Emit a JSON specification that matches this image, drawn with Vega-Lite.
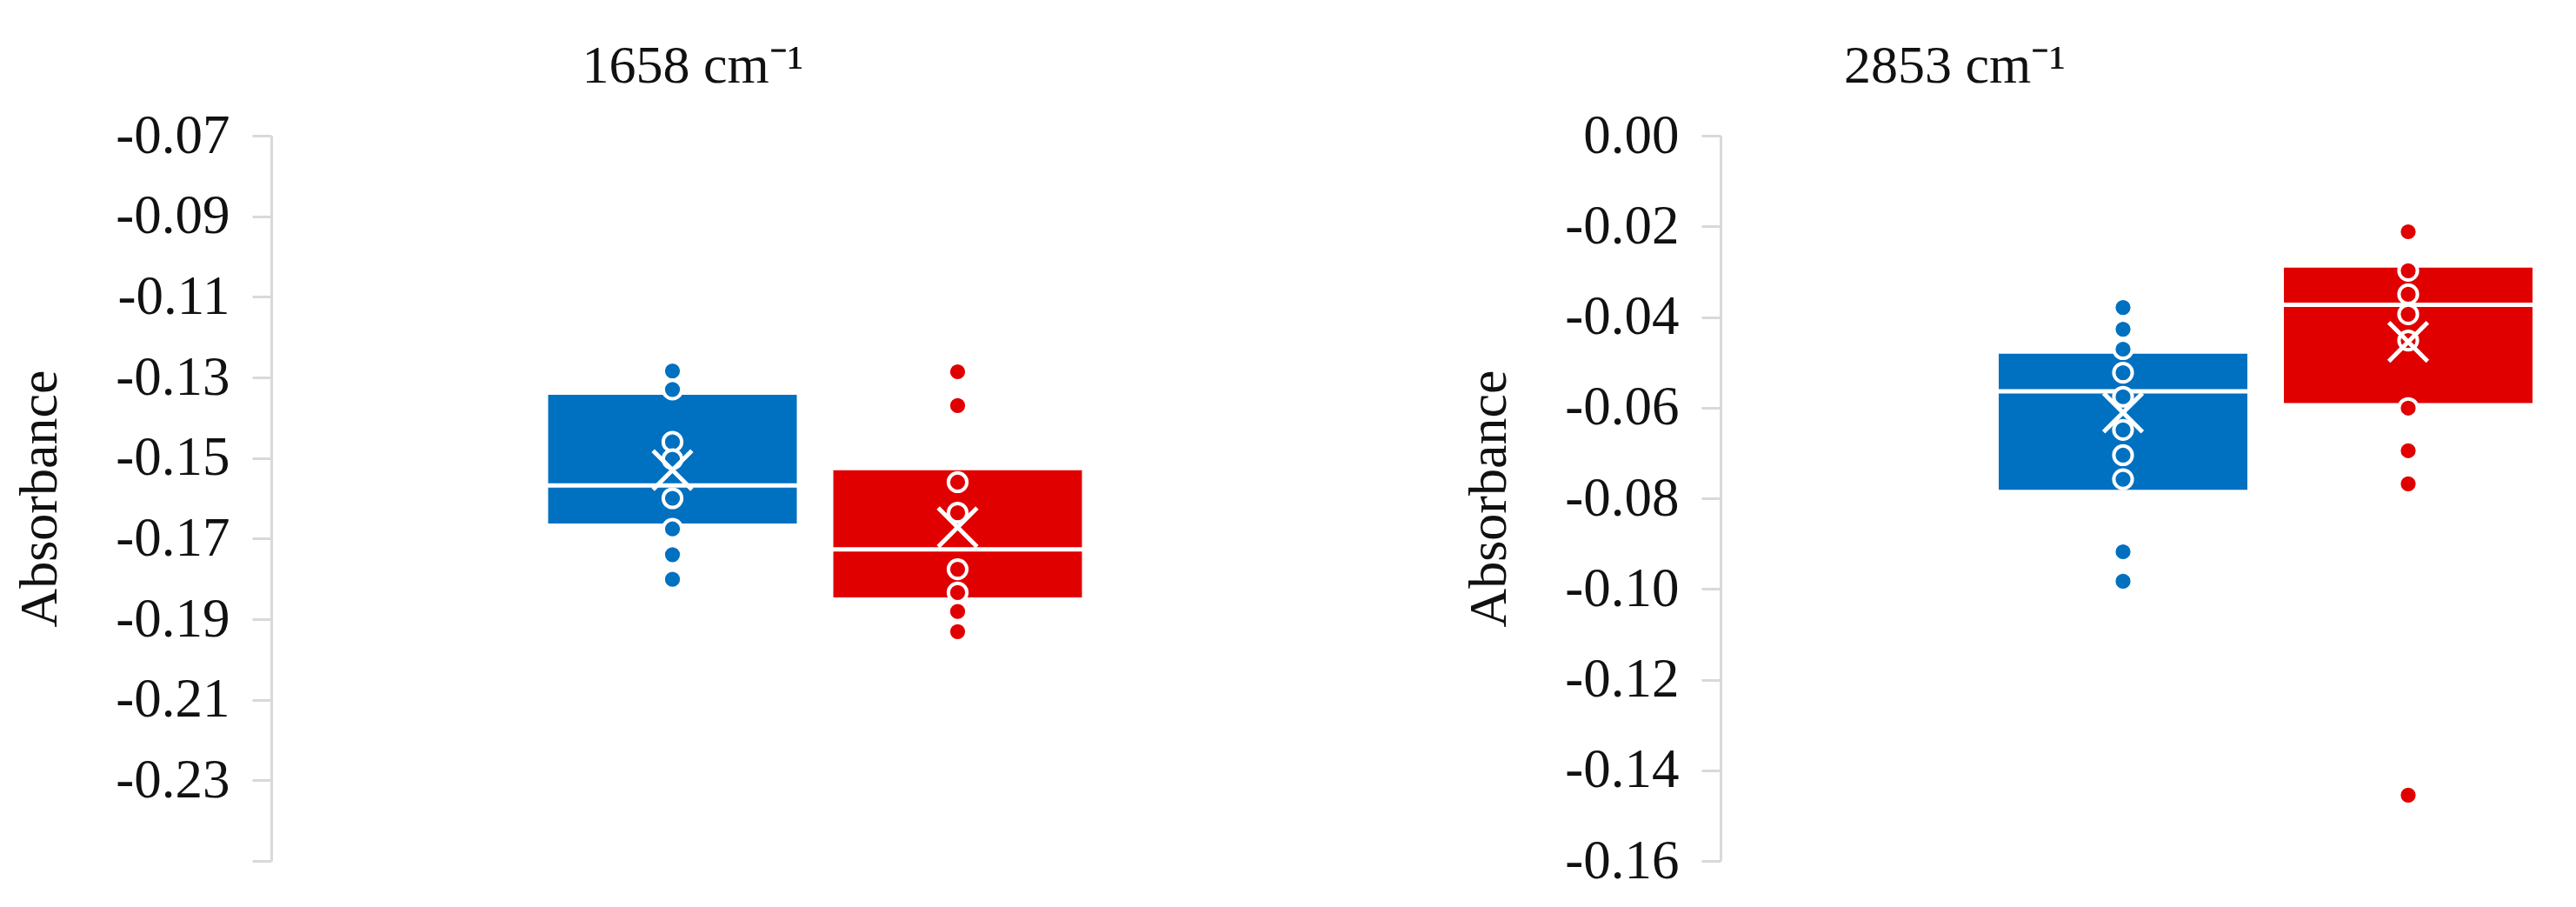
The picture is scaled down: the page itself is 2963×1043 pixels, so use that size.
{
  "$schema": "https://vega.github.io/schema/vega-lite/v6.json",
  "background": "white",
  "padding": {"left": 14, "top": 45, "right": 0, "bottom": 0},
  "spacing": 118,
  "datasets": {
    "boxes": [
      {"panel": "1658", "group": "Series 1", "q1": -0.1665, "q3": -0.1341, "median": -0.1568, "mean": -0.1530},
      {"panel": "1658", "group": "Series 2", "q1": -0.1848, "q3": -0.1528, "median": -0.1727, "mean": -0.1672},
      {"panel": "2853", "group": "Series 1", "q1": -0.0783, "q3": -0.0479, "median": -0.0564, "mean": -0.0611},
      {"panel": "2853", "group": "Series 2", "q1": -0.0592, "q3": -0.0289, "median": -0.0373, "mean": -0.0455}
    ],
    "points": [
      {"panel": "1658", "group": "Series 1", "value": -0.1284},
      {"panel": "1658", "group": "Series 1", "value": -0.1330},
      {"panel": "1658", "group": "Series 1", "value": -0.1460},
      {"panel": "1658", "group": "Series 1", "value": -0.1503},
      {"panel": "1658", "group": "Series 1", "value": -0.1600},
      {"panel": "1658", "group": "Series 1", "value": -0.1676},
      {"panel": "1658", "group": "Series 1", "value": -0.1740},
      {"panel": "1658", "group": "Series 1", "value": -0.1801},
      {"panel": "1658", "group": "Series 2", "value": -0.1286},
      {"panel": "1658", "group": "Series 2", "value": -0.1370},
      {"panel": "1658", "group": "Series 2", "value": -0.1560},
      {"panel": "1658", "group": "Series 2", "value": -0.1636},
      {"panel": "1658", "group": "Series 2", "value": -0.1776},
      {"panel": "1658", "group": "Series 2", "value": -0.1834},
      {"panel": "1658", "group": "Series 2", "value": -0.1881},
      {"panel": "1658", "group": "Series 2", "value": -0.1931},
      {"panel": "2853", "group": "Series 1", "value": -0.0379},
      {"panel": "2853", "group": "Series 1", "value": -0.0427},
      {"panel": "2853", "group": "Series 1", "value": -0.0471},
      {"panel": "2853", "group": "Series 1", "value": -0.0523},
      {"panel": "2853", "group": "Series 1", "value": -0.0576},
      {"panel": "2853", "group": "Series 1", "value": -0.0649},
      {"panel": "2853", "group": "Series 1", "value": -0.0705},
      {"panel": "2853", "group": "Series 1", "value": -0.0758},
      {"panel": "2853", "group": "Series 1", "value": -0.0918},
      {"panel": "2853", "group": "Series 1", "value": -0.0983},
      {"panel": "2853", "group": "Series 2", "value": -0.0212},
      {"panel": "2853", "group": "Series 2", "value": -0.0298},
      {"panel": "2853", "group": "Series 2", "value": -0.0350},
      {"panel": "2853", "group": "Series 2", "value": -0.0394},
      {"panel": "2853", "group": "Series 2", "value": -0.0452},
      {"panel": "2853", "group": "Series 2", "value": -0.0601},
      {"panel": "2853", "group": "Series 2", "value": -0.0695},
      {"panel": "2853", "group": "Series 2", "value": -0.0768},
      {"panel": "2853", "group": "Series 2", "value": -0.1455}
    ]
  },
  "config": {
    "view": {"stroke": null},
    "font": "Liberation Serif",
    "axisY": {
      "domainColor": "#D9D9D9", "domainWidth": 3,
      "tickColor": "#D9D9D9", "tickWidth": 3, "tickSize": 22,
      "labelFont": "Liberation Serif", "labelFontSize": 63, "labelColor": "#111111", "labelPadding": 26,
      "labelFlush": false, "labelOverlap": false,
      "titleFont": "Liberation Serif", "titleFontSize": 62, "titleFontWeight": "normal", "titleColor": "#111111", "titlePadding": 55,
      "grid": false
    },
    "title": {"font": "Liberation Serif", "fontSize": 62, "fontWeight": "normal", "color": "#111111", "anchor": "middle", "frame": "bounds", "offset": 17}
  },
  "hconcat": [
    {
      "width": 1251, "height": 834,
      "title": {"text": "1658 cm⁻¹", "dx": 8},
      "encoding": {
        "x": {"field": "group", "type": "nominal", "axis": null,
              "scale": {"domain": ["Series 1", "Series 2"], "paddingInner": 0.122, "paddingOuter": 0.968}}
      },
      "layer": [
        {
          "data": {"name": "boxes"},
          "transform": [{"filter": "datum.panel === '1658'"}],
          "mark": {"type": "bar", "stroke": "white", "strokeWidth": 2},
          "encoding": {
            "y": {"field": "q3", "type": "quantitative", "title": "Absorbance",
                  "scale": {"domain": [-0.25, -0.07], "nice": false, "zero": false},
                  "axis": {"values": [-0.07, -0.09, -0.11, -0.13, -0.15, -0.17, -0.19, -0.21, -0.23, -0.25],
                           "labelExpr": "datum.value < -0.245 ? '' : (datum.value < 0 ? '-' : '') + format(abs(datum.value), '.2f')"}},
            "y2": {"field": "q1"},
            "color": {"field": "group", "type": "nominal", "legend": null,
                      "scale": {"domain": ["Series 1", "Series 2"], "range": ["#0070C0", "#E00000"]}}
          }
        },
        {
          "data": {"name": "boxes"},
          "transform": [{"filter": "datum.panel === '1658'"}],
          "mark": {"type": "tick", "color": "white", "thickness": 5, "size": 288, "opacity": 1},
          "encoding": {"y": {"field": "median", "type": "quantitative", "title": "Absorbance"}}
        },
        {
          "data": {"name": "points"},
          "transform": [{"filter": "datum.panel === '1658'"}],
          "mark": {"type": "point", "filled": true, "size": 450, "stroke": "white", "strokeWidth": 4, "opacity": 1},
          "encoding": {
            "y": {"field": "value", "type": "quantitative", "title": "Absorbance"},
            "fill": {"field": "group", "type": "nominal", "legend": null,
                     "scale": {"domain": ["Series 1", "Series 2"], "range": ["#0070C0", "#E00000"]}}
          }
        },
        {
          "data": {"name": "boxes"},
          "transform": [{"filter": "datum.panel === '1658'"}],
          "mark": {"type": "point", "shape": "M-1,-1L1,1M1,-1L-1,1", "size": 2000, "filled": false, "stroke": "white", "strokeWidth": 5, "opacity": 1},
          "encoding": {"y": {"field": "mean", "type": "quantitative", "title": "Absorbance"}}
        }
      ]
    },
    {
      "width": 988, "height": 834,
      "title": {"text": "2853 cm⁻¹", "dx": -76},
      "encoding": {
        "x": {"field": "group", "type": "nominal", "axis": null,
              "scale": {"domain": ["Series 1", "Series 2"], "paddingInner": 0.122, "paddingOuter": 0.5671, "align": 0.8575}}
      },
      "layer": [
        {
          "data": {"name": "boxes"},
          "transform": [{"filter": "datum.panel === '2853'"}],
          "mark": {"type": "bar", "stroke": "white", "strokeWidth": 2},
          "encoding": {
            "y": {"field": "q3", "type": "quantitative", "title": "Absorbance",
                  "scale": {"domain": [-0.16, 0], "nice": false, "zero": false},
                  "axis": {"values": [0, -0.02, -0.04, -0.06, -0.08, -0.10, -0.12, -0.14, -0.16],
                           "labelExpr": "(datum.value < 0 ? '-' : '') + format(abs(datum.value), '.2f')"}},
            "y2": {"field": "q1"},
            "color": {"field": "group", "type": "nominal", "legend": null,
                      "scale": {"domain": ["Series 1", "Series 2"], "range": ["#0070C0", "#E00000"]}}
          }
        },
        {
          "data": {"name": "boxes"},
          "transform": [{"filter": "datum.panel === '2853'"}],
          "mark": {"type": "tick", "color": "white", "thickness": 5, "size": 288, "opacity": 1},
          "encoding": {"y": {"field": "median", "type": "quantitative", "title": "Absorbance"}}
        },
        {
          "data": {"name": "points"},
          "transform": [{"filter": "datum.panel === '2853'"}],
          "mark": {"type": "point", "filled": true, "size": 450, "stroke": "white", "strokeWidth": 4, "opacity": 1},
          "encoding": {
            "y": {"field": "value", "type": "quantitative", "title": "Absorbance"},
            "fill": {"field": "group", "type": "nominal", "legend": null,
                     "scale": {"domain": ["Series 1", "Series 2"], "range": ["#0070C0", "#E00000"]}}
          }
        },
        {
          "data": {"name": "boxes"},
          "transform": [{"filter": "datum.panel === '2853'"}],
          "mark": {"type": "point", "shape": "M-1,-1L1,1M1,-1L-1,1", "size": 2000, "filled": false, "stroke": "white", "strokeWidth": 5, "opacity": 1},
          "encoding": {"y": {"field": "mean", "type": "quantitative", "title": "Absorbance"}}
        }
      ]
    }
  ]
}
